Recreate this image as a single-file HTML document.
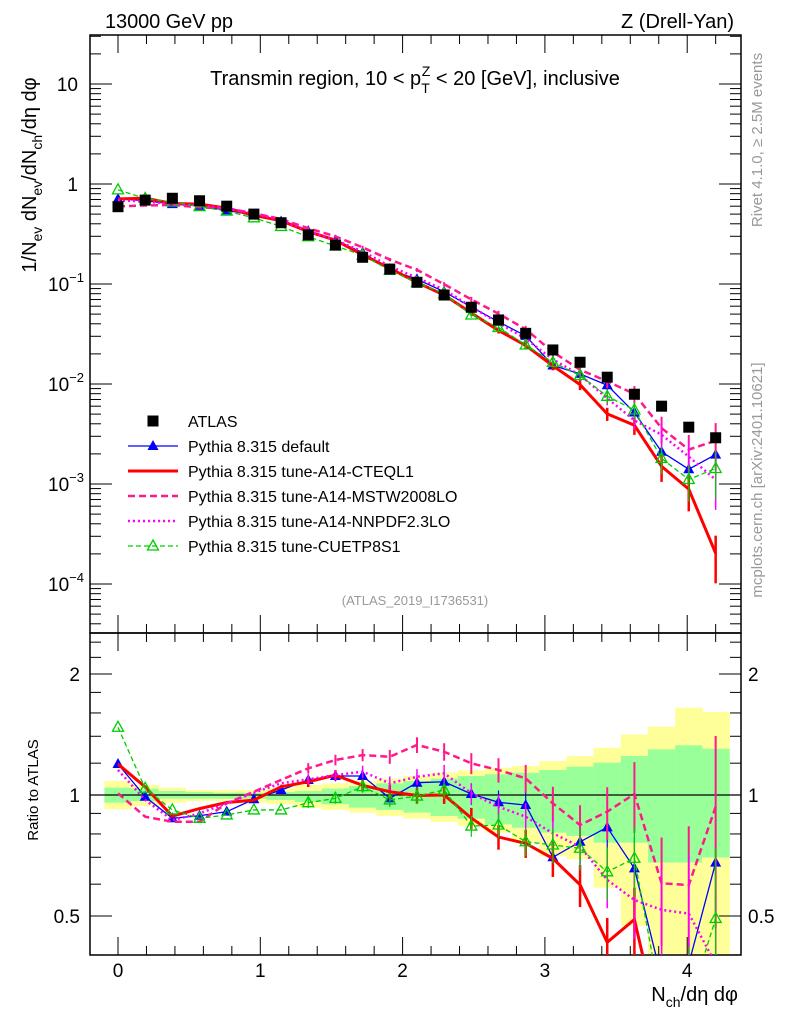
<!DOCTYPE html>
<html><head><meta charset="utf-8"><style>
html,body{margin:0;padding:0;background:#fff;overflow:hidden;width:786px;height:1024px;}
svg{display:block;}
svg text{font-family:"Liberation Sans",sans-serif;}
</style></head><body>
<svg id="chart" width="786" height="1024" xmlns="http://www.w3.org/2000/svg">
<g>
<text x="105" y="28" font-size="20" textLength="128">13000 GeV pp</text>
<text x="734" y="28" font-size="20" text-anchor="end">Z (Drell-Yan)</text>
<text x="415" y="85" font-size="20" text-anchor="middle">Transmin region, 10 &lt; p<tspan font-size="14" dy="8">T</tspan><tspan font-size="14" dx="-8" dy="-17">Z</tspan><tspan dy="9"> &lt; 20 [GeV], inclusive</tspan></text>
<text x="415" y="605" font-size="13" fill="#999" text-anchor="middle">(ATLAS_2019_I1736531)</text>
<text transform="translate(762,140) rotate(-90)" font-size="15" fill="#999" text-anchor="middle">Rivet 4.1.0, ≥ 2.5M events</text>
<text transform="translate(762,480) rotate(-90)" font-size="15" fill="#999" text-anchor="middle">mcplots.cern.ch [arXiv:2401.10621]</text>
<text transform="translate(36,175) rotate(-90)" font-size="20" text-anchor="middle">1/N<tspan font-size="14" dy="6">ev</tspan><tspan dy="-6"> dN</tspan><tspan font-size="14" dy="6">ev</tspan><tspan dy="-6">/dN</tspan><tspan font-size="14" dy="6">ch</tspan><tspan dy="-6">/dη dφ</tspan></text>
<text transform="translate(38,790) rotate(-90)" font-size="15" text-anchor="middle">Ratio to ATLAS</text>
<text x="738" y="1001" font-size="20" text-anchor="end">N<tspan font-size="14" dy="6">ch</tspan><tspan dy="-6">/dη dφ</tspan></text>
</g>
<g id="bands"></g>
<g id="axes"></g>
<g id="series"></g>
<g id="legend"></g>
</svg>
<script>
const xs = [0,0.191,0.382,0.573,0.764,0.955,1.146,1.337,1.528,1.719,1.91,2.101,2.292,2.483,2.674,2.865,3.056,3.247,3.438,3.629,3.82,4.011,4.2];
const atlas = [0.593,0.69,0.72,0.68,0.60,0.50,0.41,0.31,0.245,0.185,0.141,0.104,0.0776,0.0585,0.0437,0.0321,0.0219,0.0165,0.0117,0.0079,0.0060,0.0037,0.0029];
const rDefault = [1.194,0.99,0.875,0.888,0.909,0.976,1.029,1.09,1.115,1.115,0.981,1.073,1.079,1.006,0.959,0.944,0.70,0.765,0.831,0.657,0.35,0.38,0.679];
const rCteq = [1.194,1.047,0.886,0.925,0.958,0.971,1.048,1.079,1.12,1.057,1.019,0.997,1.0,0.876,0.786,0.758,0.695,0.598,0.43,0.49,0.25,0.24,0.07];
const rMstw = [1.01,0.883,0.858,0.858,0.953,1.019,1.09,1.165,1.222,1.257,1.245,1.332,1.281,1.199,1.154,1.1,0.953,0.842,0.909,1.006,0.603,0.597,0.935];
const rNnpdf = [1.154,0.972,0.866,0.9,0.953,1.013,1.069,1.094,1.121,1.143,1.069,1.11,1.132,1.01,0.935,0.883,0.803,0.744,0.615,0.548,0.518,0.507,0.38];
const rCuetp = [1.474,1.039,0.918,0.875,0.892,0.918,0.918,0.957,0.981,1.049,0.972,0.994,1.029,0.837,0.842,0.765,0.751,0.737,0.644,0.696,0.3,0.3,0.493];
const relErr = [0.015,0.015,0.015,0.015,0.02,0.02,0.025,0.03,0.03,0.035,0.04,0.045,0.05,0.06,0.07,0.08,0.1,0.12,0.15,0.2,0.3,0.4,0.5];
const yelHi = [1.083,1.059,1.043,1.029,1.029,1.029,1.043,1.059,1.069,1.083,1.098,1.115,1.136,1.152,1.169,1.181,1.215,1.25,1.311,1.415,1.479,1.649,1.609];
const yelLo = [0.921,0.939,0.957,0.966,0.966,0.957,0.948,0.93,0.918,0.904,0.887,0.873,0.857,0.837,0.806,0.761,0.705,0.692,0.588,0.472,0.38,0.38,0.38];
const grnHi = [1.043,1.037,1.023,1.017,1.013,1.013,1.017,1.023,1.037,1.053,1.069,1.083,1.098,1.115,1.126,1.136,1.154,1.176,1.203,1.25,1.299,1.329,1.304];
const grnLo = [0.957,0.966,0.979,0.979,0.979,0.979,0.972,0.961,0.948,0.93,0.918,0.904,0.887,0.873,0.845,0.829,0.806,0.791,0.761,0.761,0.679,0.679,0.699];
const xTicks = [0,1,2,3,4];
const yTicks = [1,0,-1,-2,-3,-4];
const rTicks = [2,1,0.5];

const NS="http://www.w3.org/2000/svg";
const L=90,R=741,T=35,M=633,B=955;
const X=v=>118+v*142.3;
const Y=v=>184-Math.log10(v)*100;
const YR=v=>795-Math.log2(v)*121;
function mk(tag,attrs,parent){const e=document.createElementNS(NS,tag);for(const k in attrs)e.setAttribute(k,attrs[k]);parent.appendChild(e);return e;}
const bands=document.getElementById('bands'),axes=document.getElementById('axes'),series=document.getElementById('series'),legend=document.getElementById('legend');
const clampR=v=>Math.min(Math.max(YR(v),M),B);
const hw=0.0955;
for(let i=0;i<xs.length;i++){
  const y1=mk('rect',{x:X(xs[i]-hw),width:X(xs[i]+hw)-X(xs[i]-hw)+0.5,y:clampR(yelHi[i]),height:clampR(yelLo[i])-clampR(yelHi[i]),fill:'#ffff99'},bands);
  
  
  const g1=mk('rect',{x:X(xs[i]-hw),width:X(xs[i]+hw)-X(xs[i]-hw)+0.5,y:clampR(grnHi[i]),height:clampR(grnLo[i])-clampR(grnHi[i]),fill:'#99ff99'},bands);
  
  
}
mk('rect',{x:L,y:T,width:R-L,height:M-T,fill:'none',stroke:'#000','stroke-width':1.5},axes);
mk('rect',{x:L,y:M,width:R-L,height:B-M,fill:'none',stroke:'#000','stroke-width':1.5},axes);
mk('line',{x1:L,x2:R,y1:YR(1),y2:YR(1),stroke:'#000','stroke-width':1.2},axes);
for(let v=-0.2;v<=4.41;v+=0.2){const x=X(v);if(x<L||x>R)continue;const maj=Math.abs(v-Math.round(v))<0.01;const len=maj?18:9;
  for(const [a,b] of [[T,M],[M,B]]){mk('line',{x1:x,x2:x,y1:b,y2:b-len,stroke:'#000'},axes);mk('line',{x1:x,x2:x,y1:a,y2:a+len,stroke:'#000'},axes);}}
xTicks.forEach(v=>{const t=mk('text',{x:X(v),y:977,'font-size':19,'text-anchor':'middle'},axes);t.textContent=v;
  
  });
for(let d=-5;d<=1;d++){for(let m=1;m<10;m++){const v=m*Math.pow(10,d);const y=Y(v);if(y<T||y>M)continue;const len=m==1?22:11;
  mk('line',{x1:L,x2:L+len,y1:y,y2:y,stroke:'#000'},axes);mk('line',{x1:R,x2:R-len,y1:y,y2:y,stroke:'#000'},axes);}}
yTicks.forEach(e=>{const t=mk('text',{x:e>=0?78:84,y:Y(Math.pow(10,e))+7,'font-size':19,'text-anchor':'end'},axes);
  
  
  if(e==1)t.textContent='10';else if(e==0)t.textContent='1';else{t.textContent='10';const s=mk('tspan',{'font-size':13,dy:-9},t);s.textContent='−'+(-e);}});
for(const v of [0.4,0.5,0.6,0.7,0.8,0.9,1,1.2,1.4,1.6,1.8,2,2.2,2.4]){const y=YR(v);if(y<M||y>B)continue;const len=(v==0.5||v==1||v==2)?22:11;
  mk('line',{x1:L,x2:L+len,y1:y,y2:y,stroke:'#000'},axes);mk('line',{x1:R,x2:R-len,y1:y,y2:y,stroke:'#000'},axes);}
rTicks.forEach(v=>{for(const [x,a] of [[80,'end'],[748,'start']]){const t=mk('text',{x:x,y:YR(v)+7,'font-size':19,'text-anchor':a},axes);t.textContent=v;
  
  }});
const defs=mk('defs',{},document.getElementById('chart'));
const c1=mk('clipPath',{id:'cTop'},defs);mk('rect',{x:L,y:T,width:R-L,height:M-T},c1);
const c2=mk('clipPath',{id:'cBot'},defs);mk('rect',{x:L,y:M,width:R-L,height:B-M},c2);
const specs=[
 {name:'default',r:rDefault,color:'#0000ff',w:1.3,dash:'',mk:'tri',ew:1.2},
 {name:'cteql1',r:rCteq,color:'#ff0000',w:3,dash:'',mk:'none',ew:2.5},
 {name:'mstw',r:rMstw,color:'#ff1a8c',w:2.5,dash:'7,4',mk:'none',ew:2},
 {name:'nnpdf',r:rNnpdf,color:'#ff00ff',w:2.5,dash:'2,3',mk:'none',ew:1.5},
 {name:'cuetp8s1',r:rCuetp,color:'#00cc00',w:1.3,dash:'5,3',mk:'otri',ew:1.2}];
function marker(kind,x,y,color,g){
  if(kind=='tri'){mk('path',{d:`M${x},${y-6}L${x+5.5},${y+4}L${x-5.5},${y+4}Z`,fill:color},g);}
  else if(kind=='otri'){mk('path',{d:`M${x},${y-6}L${x+5.5},${y+4}L${x-5.5},${y+4}Z`,fill:'none',stroke:color,'stroke-width':1.3},g);}
}
specs.forEach(s=>{
  for(const panel of ['top','bot']){
    const g=mk('g',{'clip-path':panel=='top'?'url(#cTop)':'url(#cBot)'},series);
    
    
    const val=i=>panel=='top'?atlas[i]*s.r[i]:s.r[i];
    const fy=panel=='top'?Y:YR;
    xs.forEach((x,i)=>{const e=relErr[i];if(e<0.03)return;const v=val(i);
      mk('line',{x1:X(x),x2:X(x),y1:fy(v*(1+e)),y2:fy(Math.max(v*(1-e),1e-6)),stroke:s.color,'stroke-width':s.ew},g);});
    const pts=xs.map((x,i)=>[X(x),fy(val(i))]);
    const p=mk('polyline',{points:pts.map(q=>q.join(',')).join(' '),fill:'none',stroke:s.color,'stroke-width':s.w,'stroke-dasharray':s.dash},g);
    
    
    pts.forEach(q=>marker(s.mk,q[0],q[1],s.color,g));
  }
});
const ga=mk('g',{'clip-path':'url(#cTop)'},series);


xs.forEach((x,i)=>{const r=mk('rect',{x:X(x)-5.5,y:Y(atlas[i])-5.5,width:11,height:11,fill:'#000'},ga);
  
  });
const leg=[['ATLAS','#000','','sq',0],['Pythia 8.315 default','#0000ff','','tri',1.3],['Pythia 8.315 tune-A14-CTEQL1','#ff0000','','none',3],
 ['Pythia 8.315 tune-A14-MSTW2008LO','#ff1a8c','7,4','none',2.5],['Pythia 8.315 tune-A14-NNPDF2.3LO','#ff00ff','2,3','none',2.5],['Pythia 8.315 tune-CUETP8S1','#00cc00','5,3','otri',1.3]];
leg.forEach((e,i)=>{const y=421+i*25;const g=mk('g',{},legend);
  
  
  if(e[3]=='sq')mk('rect',{x:147.5,y:y-5.5,width:11,height:11,fill:'#000'},g);
  else{mk('line',{x1:128,x2:178,y1:y,y2:y,stroke:e[1],'stroke-width':e[4],'stroke-dasharray':e[2]},g);marker(e[3],153,y,e[1],g);}
  const t=mk('text',{x:188,y:y+6,'font-size':16},g);t.textContent=e[0];});
</script>
</body></html>
